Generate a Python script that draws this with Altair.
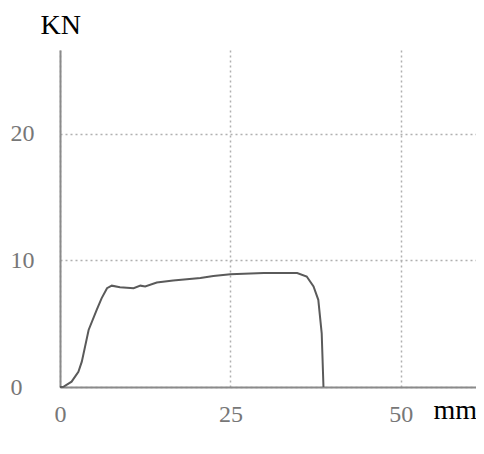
import altair as alt
import pandas as pd

# Load-displacement curve
disp_mm = [0.0, 0.5, 1.7, 2.7, 3.2, 4.2, 5.4, 6.1, 6.9, 7.6, 8.8, 10.8, 11.8, 12.5,
           14.2, 16.6, 20.6, 22.5, 25.0, 29.9, 34.8, 36.2, 37.2, 37.9, 38.4, 38.66]
load_kn = [0.0, 0.02, 0.42, 1.2, 2.0, 4.5, 6.1, 7.0, 7.8, 8.0, 7.88, 7.8, 8.0, 7.93,
           8.25, 8.4, 8.6, 8.77, 8.9, 9.0, 9.0, 8.72, 7.93, 6.88, 4.24, 0.0]

x_ticks = [0, 25, 50]
y_ticks = [0, 10, 20]

df = pd.DataFrame({"x": disp_mm, "y": load_kn, "order": list(range(len(disp_mm)))})

serif = "Liberation Serif"

chart = alt.Chart(df).mark_line(color="#5a5a5a", strokeWidth=2).encode(
    x=alt.X("x:Q",
            scale=alt.Scale(domain=[0, 61.04], nice=False, zero=True),
            axis=alt.Axis(values=x_ticks, title="mm", titleAngle=0,
                          titleX=373, titleY=31, titleAlign="left",
                          titleBaseline="alphabetic", titleFont=serif,
                          titleFontSize=28, titleFontWeight="normal",
                          titleColor="#000000",
                          labelFont=serif, labelFontSize=24, labelColor="#777777",
                          labelPadding=15, labelBaseline="top",
                          ticks=False, tickSize=0,
                          domainColor="#8a8a8a", domainWidth=2,
                          grid=True, gridColor="#b0b0b0", gridDash=[2, 3],
                          gridWidth=1.5, labelFlush=False)),
    y=alt.Y("y:Q",
            scale=alt.Scale(domain=[0, 26.6], nice=False, zero=True),
            axis=alt.Axis(values=y_ticks, title="KN", titleAngle=0,
                          titleX=-20, titleY=-17, titleAlign="left",
                          titleBaseline="alphabetic", titleFont=serif,
                          titleFontSize=28, titleFontWeight="normal",
                          titleColor="#000000",
                          labelFont=serif, labelFontSize=24, labelColor="#777777",
                          labelPadding=50, labelAlign="left", labelBaseline="middle",
                          ticks=False, tickSize=0,
                          domainColor="#8a8a8a", domainWidth=2,
                          grid=True, gridColor="#b0b0b0", gridDash=[2, 3],
                          gridWidth=1.5, labelFlush=False)),
    order="order:Q",
).properties(
    width=416,
    height=337,
    autosize=alt.AutoSizeParams(type="none"),
    padding={"left": 52, "top": 42, "right": 0, "bottom": 50},
    background="white",
).configure_view(stroke=None)

chart.save("out.html", embed_options={"renderer": "svg", "actions": False})
